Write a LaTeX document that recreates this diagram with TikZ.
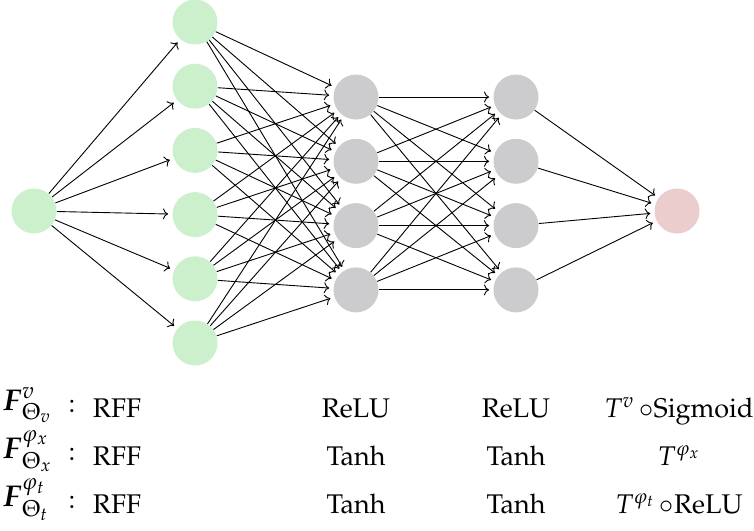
\documentclass[tikz,border=0pt]{standalone}
\usepackage[T1]{fontenc}
\usepackage{mathpazo}
\usepackage{amsmath}
\usepackage{amssymb}
\usepackage{xcolor}
\usetikzlibrary{arrows.meta,positioning}
\definecolor{nodegreen}{RGB}{204,240,204}
\definecolor{nodegrey}{RGB}{204,204,206}
\definecolor{nodepink}{RGB}{235,205,205}

\begin{document}
\begin{tikzpicture}[x=0.5pt, y=-0.5pt, font=\fontsize{13.5}{16}\selectfont,
  neuron/.style={circle, minimum size=22.5pt, inner sep=0pt},
  conn/.style={->, line width=0.45pt, shorten >=2pt},
  netlabel/.style={anchor=base west, inner sep=0pt, font=\fontsize{15}{17}\selectfont}]
\useasboundingbox (0,0) rectangle (754,530);
% neurons
\node[neuron, fill=nodegreen] (in) at (34,211) {};
\foreach \i in {1,...,6} \node[neuron, fill=nodegreen] (h1-\i) at (195,{22+(\i-1)*64.2}) {};
\foreach \j in {1,...,4} \node[neuron, fill=nodegrey] (h2-\j) at (356,{97+(\j-1)*64.3}) {};
\foreach \j in {1,...,4} \node[neuron, fill=nodegrey] (h3-\j) at (516,{97+(\j-1)*64.3}) {};
\node[neuron, fill=nodepink] (out) at (677,211) {};
% connections
\foreach \i in {1,...,6} \draw[conn] (in) -- (h1-\i);
\foreach \i in {1,...,6} \foreach \j in {1,...,4} \draw[conn] (h1-\i) -- (h2-\j);
\foreach \i in {1,...,4} \foreach \j in {1,...,4} \draw[conn] (h2-\i) -- (h3-\j);
\foreach \j in {1,...,4} \draw[conn] (h3-\j) -- (out);
% activation table
\node[netlabel] (f1) at (2,410) {$\boldsymbol{F}^{v}_{\Theta_v}$};
\node[netlabel] (f2) at (2,458) {$\boldsymbol{F}^{\varphi_x}_{\Theta_x}$};
\node[netlabel] (f3) at (2,506) {$\boldsymbol{F}^{\varphi_t}_{\Theta_t}$};
\foreach \r/\yy in {1/417,2/465,3/513} {
  \node[anchor=base, inner sep=1pt] (c\r) at (72,\yy-5) {:};
  \node[anchor=base] (rff\r) at (117,\yy) {RFF};
}
\node[anchor=base] (a1) at (356,417) {ReLU};
\node[anchor=base] (b1) at (516,417) {ReLU};
\node[anchor=base] (o1) at (679,417) {$T^{v}\,\circ$Sigmoid};
\node[anchor=base] (a2) at (356,465) {Tanh};
\node[anchor=base] (b2) at (516,465) {Tanh};
\node[anchor=base] (o2) at (679,465) {$T^{\varphi_x}$};
\node[anchor=base] (a3) at (356,513) {Tanh};
\node[anchor=base] (b3) at (516,513) {Tanh};
\node[anchor=base] (o3) at (679,513) {$T^{\varphi_t}\,\circ$ReLU};
\end{tikzpicture}
\end{document}
